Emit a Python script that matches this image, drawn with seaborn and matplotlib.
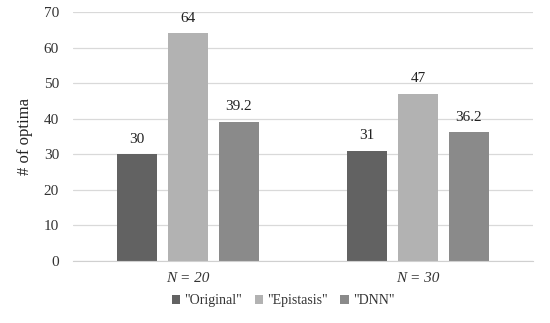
import matplotlib
matplotlib.use('Agg')
import matplotlib.pyplot as plt
import seaborn as sns
import pandas as pd

groups = ['N = 20', 'N = 30']
methods = ['"Original"', '"Epistasis"', '"DNN"']
original = [30, 31]
epistasis = [64, 47]
dnn = [39.2, 36.2]
colors = ['#626262', '#b2b2b2', '#8a8a8a']

rows = []
for i, g in enumerate(groups):
    rows.append((g, methods[0], original[i]))
    rows.append((g, methods[1], epistasis[i]))
    rows.append((g, methods[2], dnn[i]))
df = pd.DataFrame(rows, columns=['group', 'method', 'value'])

sns.set_style('white')
plt.rcParams['font.family'] = ['Liberation Serif', 'DejaVu Serif']

fig = plt.figure(figsize=(5.5, 3.23), dpi=100)
ax = fig.add_axes([73 / 550, 1 - 261 / 323, 460 / 550, 249 / 323])

sns.barplot(data=df, x='group', y='value', hue='method', palette=colors,
            width=0.665, gap=0.216, linewidth=0, saturation=1, ax=ax, legend=True)

for cont in ax.containers:
    labels = ['{:g}'.format(v) for v in cont.datavalues]
    ax.bar_label(cont, labels=labels, padding=6, fontsize=11, color='#222222')

ax.set_ylim(0, 70)
ax.set_yticks(range(0, 71, 10))
ax.yaxis.grid(True, color='#d9d9d9', linewidth=0.9)
ax.set_axisbelow(True)
for s in ['left', 'right', 'top']:
    ax.spines[s].set_visible(False)
ax.spines['bottom'].set_color('#d0d0d0')
ax.tick_params(axis='both', length=0, labelsize=11, colors='#333333')
ax.tick_params(axis='y', pad=10)
ax.tick_params(axis='x', pad=8)
for t in ax.get_xticklabels():
    t.set_fontstyle('italic')
ax.set_xlabel('')
ax.set_ylabel('# of optima', fontsize=12, color='#222222', labelpad=8)

handles, labels = ax.get_legend_handles_labels()
ax.legend(handles, labels, loc='center', bbox_to_anchor=(0.457, -0.16),
          ncol=3, frameon=False, fontsize=10, handlelength=0.6, handleheight=0.6,
          handletextpad=0.3, columnspacing=0.9, labelcolor='#333333')

fig.savefig('out.png', dpi=100)
